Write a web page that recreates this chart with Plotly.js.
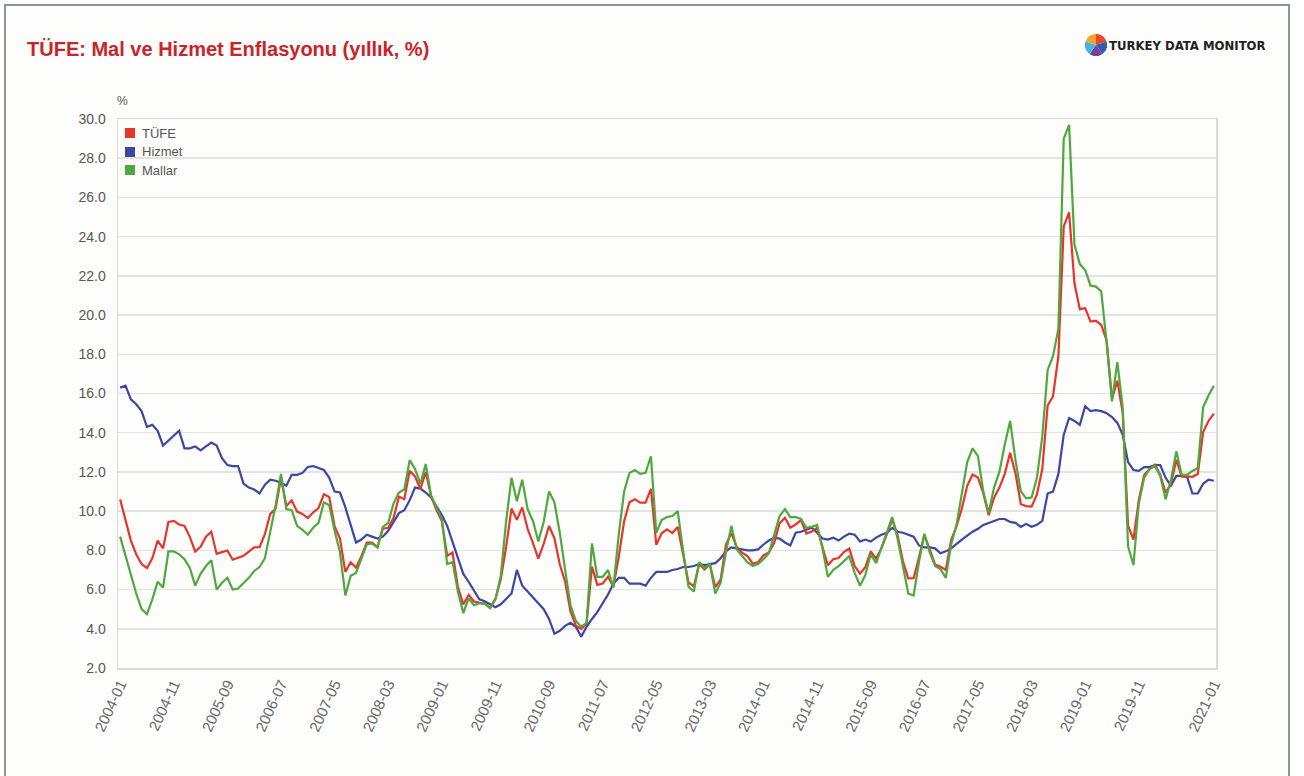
<!DOCTYPE html>
<html><head><meta charset="utf-8">
<script src="https://cdn.plot.ly/plotly-3.0.1.min.js"></script>
<style>
html,body{margin:0;padding:0;background:#fff;}
#frame{position:absolute;left:4px;top:4px;width:1282px;height:790px;border:2px solid #8e9494;border-bottom:none;background:#fdfdfb;}
#chart{position:absolute;left:0;top:0;width:1304px;height:776px;}
</style></head><body>
<div id="frame"></div><div id="chart"></div>
<script>
// Monthly categories 2004-01 .. 2021-01
const startYear = 2004, endYear = 2021;
const months = [];
for (let y = startYear; y <= endYear; y++) {
  for (let m = 1; m <= 12; m++) {
    if (y === endYear && m > 1) break;
    months.push(y + '-' + (m < 10 ? '0' + m : m));
  }
}
const xTickLabels = ['2004-01','2004-11','2005-09','2006-07','2007-05','2008-03','2009-01','2009-11','2010-09','2011-07','2012-05','2013-03','2014-01','2014-11','2015-09','2016-07','2017-05','2018-03','2019-01','2019-11','2021-01'];

const tufe = [
 10.6, 9.5, 8.5, 7.8, 7.3, 7.1, 7.6, 8.5, 8.1, 9.45, 9.5, 9.32,
 9.24, 8.69, 7.94, 8.18, 8.70, 8.95, 7.82, 7.91, 7.99, 7.52, 7.61, 7.72,
 7.93, 8.15, 8.16, 8.83, 9.86, 10.12, 11.69, 10.26, 10.55, 9.98, 9.86, 9.65,
 9.93, 10.16, 10.86, 10.72, 9.23, 8.60, 6.90, 7.39, 7.12, 7.70, 8.40, 8.39,
 8.17, 9.10, 9.15, 9.66, 10.74, 10.61, 12.06, 11.77, 11.13, 11.99, 10.76, 10.06,
 9.50, 7.73, 7.89, 6.13, 5.24, 5.73, 5.39, 5.33, 5.27, 5.08, 5.53, 6.53,
 8.19, 10.13, 9.56, 10.19, 9.10, 8.37, 7.58, 8.33, 9.24, 8.62, 7.29, 6.40,
 4.90, 4.16, 3.99, 4.26, 7.17, 6.24, 6.31, 6.65, 6.15, 7.66, 9.48, 10.45,
 10.61, 10.43, 10.43, 11.14, 8.28, 8.87, 9.07, 8.88, 9.19, 7.80, 6.37, 6.16,
 7.31, 7.03, 7.29, 6.13, 6.51, 8.30, 8.88, 8.17, 7.88, 7.71, 7.32, 7.40,
 7.75, 7.89, 8.39, 9.38, 9.66, 9.16, 9.32, 9.54, 8.86, 8.96, 9.15, 8.17,
 7.24, 7.55, 7.61, 7.91, 8.09, 7.20, 6.81, 7.14, 7.95, 7.58, 8.10, 8.81,
 9.58, 8.78, 7.46, 6.57, 6.58, 7.64, 8.79, 8.05, 7.28, 7.16, 7.00, 8.53,
 9.22, 10.13, 11.29, 11.87, 11.72, 10.90, 9.79, 10.68, 11.20, 11.90, 12.98, 11.92,
 10.35, 10.26, 10.23, 10.85, 12.15, 15.39, 15.85, 17.90, 24.52, 25.24, 21.62, 20.30,
 20.35, 19.67, 19.71, 19.50, 18.71, 15.72, 16.65, 15.01, 9.26, 8.55, 10.56, 11.84,
 12.15, 12.37, 11.86, 10.94, 11.39, 12.62, 11.76, 11.77, 11.75, 11.89, 14.03, 14.60,
 14.97
];
const hizmet = [
 16.3, 16.4, 15.7, 15.45, 15.1, 14.3, 14.4, 14.1, 13.35, 13.6, 13.85, 14.1,
 13.2, 13.2, 13.3, 13.1, 13.3, 13.5, 13.35, 12.7, 12.35, 12.3, 12.3, 11.4,
 11.2, 11.1, 10.9, 11.35, 11.6, 11.55, 11.45, 11.3, 11.85, 11.85, 11.95, 12.25,
 12.3, 12.2, 12.1, 11.7, 11.0, 10.95, 10.2, 9.3, 8.4, 8.55, 8.8, 8.7,
 8.6, 8.7, 9.0, 9.45, 9.9, 10.05, 10.55, 11.2, 11.15, 10.95, 10.7, 10.25,
 9.8, 9.25, 8.4, 7.55, 6.8, 6.4, 5.95, 5.5, 5.4, 5.25, 5.1, 5.25,
 5.5, 5.8, 7.0, 6.2, 5.9, 5.6, 5.3, 5.0, 4.5, 3.75, 3.9, 4.15,
 4.3, 4.1, 3.6, 4.1, 4.5, 4.85, 5.3, 5.75, 6.3, 6.6, 6.6, 6.3,
 6.3, 6.3, 6.2, 6.6, 6.9, 6.9, 6.9, 7.0, 7.05, 7.15, 7.15, 7.2,
 7.3, 7.25, 7.3, 7.35, 7.6, 7.95, 8.15, 8.1, 8.05, 8.0, 8.0, 8.05,
 8.3, 8.5, 8.65, 8.6, 8.4, 8.25, 8.9, 8.95, 9.05, 9.15, 8.9, 8.6,
 8.55, 8.65, 8.5, 8.7, 8.85, 8.8, 8.45, 8.55, 8.45, 8.65, 8.8, 8.9,
 9.15, 8.95, 8.9, 8.8, 8.7, 8.25, 8.15, 8.15, 8.1, 7.85, 7.95, 8.1,
 8.35, 8.55, 8.75, 8.95, 9.1, 9.3, 9.4, 9.5, 9.6, 9.6, 9.45, 9.4,
 9.2, 9.35, 9.2, 9.3, 9.5, 10.9, 11.0, 11.9, 13.9, 14.75, 14.6, 14.4,
 15.35, 15.1, 15.15, 15.1, 15.0, 14.8, 14.5, 13.9, 12.5, 12.1, 12.05, 12.25,
 12.25, 12.35, 12.35, 11.7, 11.3, 11.8, 11.8, 11.75, 10.9, 10.9, 11.4, 11.6,
 11.55
];
const mallar = [
 8.7, 7.7, 6.7, 5.8, 5.0, 4.75, 5.5, 6.4, 6.1, 7.95, 7.95, 7.8,
 7.55, 7.1, 6.2, 6.8, 7.2, 7.5, 6.0, 6.35, 6.6, 6.0, 6.05, 6.3,
 6.6, 6.95, 7.15, 7.6, 9.0, 10.3, 11.9, 10.1, 10.05, 9.25, 9.05, 8.8,
 9.15, 9.4, 10.45, 10.3, 9.0, 7.9, 5.7, 6.7, 6.85, 7.6, 8.3, 8.35,
 8.15, 9.2, 9.4, 10.4, 10.95, 11.1, 12.6, 12.15, 11.4, 12.4, 10.8, 10.2,
 9.6, 7.3, 7.4, 5.9, 4.8, 5.55, 5.2, 5.3, 5.3, 5.05, 5.5, 6.7,
 9.5, 11.7, 10.5, 11.6, 10.1, 9.5, 8.45, 9.45, 11.0, 10.45, 8.9, 7.0,
 5.2, 4.4, 4.1, 4.3, 8.35, 6.65, 6.65, 7.0, 6.1, 8.8, 11.0, 11.95,
 12.1, 11.9, 11.95, 12.8, 8.9, 9.55, 9.7, 9.75, 10.0, 8.0, 6.15, 5.9,
 7.4, 7.1, 7.3, 5.8, 6.35, 7.9, 9.25, 8.05, 7.7, 7.4, 7.2, 7.3,
 7.55, 7.85, 8.8, 9.75, 10.1, 9.7, 9.7, 9.6, 9.15, 9.2, 9.3, 8.1,
 6.65, 7.0, 7.2, 7.45, 7.7, 6.85, 6.2, 6.75, 7.8, 7.35, 8.1, 8.95,
 9.7, 8.6, 7.2, 5.8, 5.7, 7.4, 8.85, 7.9, 7.2, 7.05, 6.6, 8.3,
 9.3, 10.8, 12.5, 13.2, 12.8, 11.0, 9.9, 11.2, 12.0, 13.4, 14.6, 12.6,
 11.0, 10.65, 10.7, 11.7, 13.8, 17.2, 17.9, 19.3, 29.0, 29.7, 23.6, 22.6,
 22.3, 21.5, 21.45, 21.2, 18.6, 15.6, 17.6, 15.3, 8.2, 7.25, 10.4, 11.7,
 12.15, 12.3, 11.8, 10.6, 11.6, 13.05, 11.85, 11.85, 12.05, 12.2, 15.3, 15.9,
 16.4
];

const seriesNames = ['TÜFE', 'Hizmet', 'Mallar'];
const seriesColors = ['#e8342b', '#3b47a3', '#4fa83d'];
const seriesData = [tufe, hizmet, mallar];

// Plot area in pixels (for placing decorations)
const L = 118, R = 1216, T = 119, B = 668;
const PX = px => (px - L) / (R - L);
const PY = py => (B - py) / (B - T);

const traces = seriesData.map((d, i) => ({
  type: 'scatter', mode: 'lines', x: months, y: d, name: seriesNames[i],
  line: {color: seriesColors[i], width: 2.2}, hoverinfo: 'x+y+name'
}));
// draw order: blue under red/green
const ordered = [traces[1], traces[0], traces[2]];

// logo pie as inline SVG
const logoColors = ['#e8482e', '#2f5db0', '#7a3f97', '#45b2e0', '#f0a22b'];
function logoSvg() {
  const r = 10, cx = 10, cy = 10;
  let a0 = -Math.PI / 2, parts = '';
  const step = 2 * Math.PI / logoColors.length;
  logoColors.forEach(c => {
    const a1 = a0 + step;
    const x0 = cx + r * Math.cos(a0), y0 = cy + r * Math.sin(a0);
    const x1 = cx + r * Math.cos(a1), y1 = cy + r * Math.sin(a1);
    parts += `<path d="M${cx},${cy} L${x0},${y0} A${r},${r} 0 0 1 ${x1},${y1} Z" fill="${c}"/>`;
    a0 = a1;
  });
  return 'data:image/svg+xml;charset=utf-8,' + encodeURIComponent(`<svg xmlns="http://www.w3.org/2000/svg" width="20" height="20" viewBox="0 0 20 20">${parts}</svg>`);
}

const legendRows = [133, 152, 170];
const shapes = [], annotations = [];
legendRows.forEach((py, i) => {
  shapes.push({type: 'rect', xref: 'paper', yref: 'paper', x0: PX(125), x1: PX(135), y0: PY(py + 5), y1: PY(py - 5),
    fillcolor: seriesColors[i], line: {width: 0}});
  annotations.push({xref: 'paper', yref: 'paper', x: PX(140), y: PY(py), xanchor: 'left', yanchor: 'middle',
    showarrow: false, text: seriesNames[i], font: {family: 'Liberation Sans, Arial, sans-serif', size: 13, color: '#555'}});
});
annotations.push({xref: 'paper', yref: 'paper', x: PX(115), y: PY(101), xanchor: 'left', yanchor: 'middle',
  showarrow: false, text: '%', font: {family: 'Liberation Sans, Arial, sans-serif', size: 12, color: '#555'}});
annotations.push({xref: 'paper', yref: 'paper', x: PX(1107), y: PY(45), xanchor: 'left', yanchor: 'middle',
  showarrow: false, text: '<b>TURKEY DATA MONITOR</b>', font: {family: 'Liberation Sans Narrow, DejaVu Sans Condensed, Arial Narrow, sans-serif', size: 13, color: '#222'}});

const layout = {
  width: 1304, height: 776,
  margin: {l: L, r: 1304 - R, t: T, b: 776 - B},
  paper_bgcolor: 'rgba(0,0,0,0)', plot_bgcolor: 'rgba(0,0,0,0)',
  showlegend: false,
  font: {family: 'Liberation Sans, Arial, sans-serif'},
  title: {text: '<b>TÜFE: Mal ve Hizmet Enflasyonu (yıllık, %)</b>',
    font: {family: 'Liberation Sans, Arial, sans-serif', size: 20, color: '#c8242a'},
    xref: 'container', yref: 'container', x: 27 / 1304, xanchor: 'left', y: 1 - 49 / 776, yanchor: 'middle'},
  xaxis: {type: 'category', range: [-0.4, months.length - 0.6], tickmode: 'array', tickvals: xTickLabels, ticktext: xTickLabels,
    tickangle: -65, tickfont: {size: 15, color: '#666'}, showgrid: false, showline: true, linecolor: '#d9d9d9', linewidth: 1.5,
    mirror: true, ticks: '', zeroline: false, fixedrange: true},
  yaxis: {range: [2, 30], tick0: 2, dtick: 2, tickformat: '.1f', tickfont: {size: 14, color: '#555'}, ticklabelstandoff: 8,
    gridcolor: '#e3e3e3', gridwidth: 1.5, showline: true, linecolor: '#d9d9d9', linewidth: 1.5, mirror: true,
    zeroline: false, ticks: '', fixedrange: true},
  shapes: shapes, annotations: annotations,
  images: [{source: logoSvg(), xref: 'paper', yref: 'paper', x: PX(1085), y: PY(34), sizex: 22 / (R - L), sizey: 22 / (B - T),
    xanchor: 'left', yanchor: 'top', sizing: 'stretch', layer: 'above'}]
};

Plotly.newPlot('chart', ordered, layout, {displayModeBar: false, staticPlot: true});
</script></body></html>
